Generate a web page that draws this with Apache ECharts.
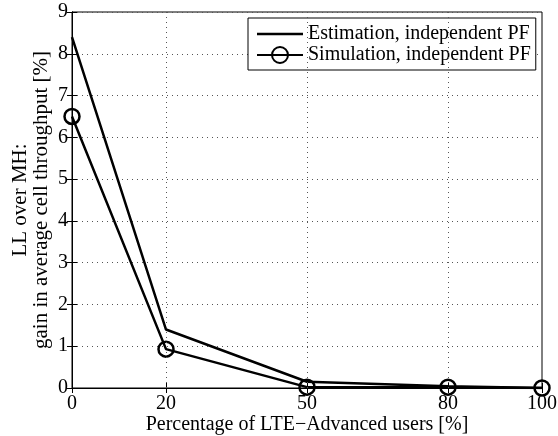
<!DOCTYPE html>
<html><head><meta charset="utf-8">
<script src="https://cdn.jsdelivr.net/npm/echarts@6/dist/echarts.min.js"></script>
<style>html,body{margin:0;padding:0;background:#fff}#c{width:558px;height:436px}</style>
</head><body><div id="c"></div>
<script>
const xValues = [0, 20, 50, 80, 100];
const xTicks = [0, 20, 50, 80, 100];
const estimation = [8.4, 1.4, 0.15, 0.04, 0.0];
const simulation = [6.5, 0.93, 0.02, 0.02, 0.0];
const seriesNames = ['Estimation, independent PF', 'Simulation, independent PF'];
const xTitle = 'Percentage of LTE\u2212Advanced users [%]';
const yTitle = 'LL over MH:\ngain in average cell throughput [%]';

const font = 'Liberation Serif';
const chart = echarts.init(document.getElementById('c'));
const pairs = a => xValues.map((x, i) => [x, a[i]]);
const gridX = xTicks.filter(v => v > 0 && v < 100);

chart.setOption({
  animation: false,
  backgroundColor: '#fff',
  grid: { left: 72, right: 16, top: 12, bottom: 48, show: true, borderColor: '#000', borderWidth: 1, outerBoundsMode: 'none', containLabel: false },
  legend: {
    left: 248, top: 18, orient: 'vertical',
    backgroundColor: '#fff', borderColor: '#000', borderWidth: 1,
    padding: [6, 5, 5, 8], itemGap: 1, itemWidth: 46, itemHeight: 20,
    textStyle: { fontFamily: font, fontSize: 20, color: '#000', padding: [2, 0, 0, 0] },
    data: [
      { name: seriesNames[0], icon: 'path://M0,0 L46,0 L46,2.5 L0,2.5 Z', itemStyle: { color: '#000' } },
      { name: seriesNames[1] }
    ]
  },
  xAxis: [{
    type: 'value', min: 0, max: 100, interval: 10,
    name: xTitle, nameLocation: 'middle', nameGap: 27, nameMoveOverlap: false,
    nameTextStyle: { fontFamily: font, fontSize: 20, color: '#000' },
    axisLine: { lineStyle: { color: '#000', width: 1 } },
    axisTick: { inside: true, length: 5, customValues: xTicks, lineStyle: { color: '#000' } },
    axisLabel: { customValues: xTicks, fontFamily: font, fontSize: 20, color: '#000', margin: 6 },
    splitLine: { show: false }
  }, {
    type: 'value', min: 0, max: 100, position: 'top',
    axisLine: { lineStyle: { color: '#000', width: 1 } },
    axisTick: { inside: true, length: 5, customValues: xTicks, lineStyle: { color: '#000' } },
    axisLabel: { show: false }, splitLine: { show: false }
  }],
  yAxis: [{
    type: 'value', min: 0, max: 9, interval: 1,
    name: yTitle, nameLocation: 'middle', nameGap: 20, nameMoveOverlap: false,
    nameTextStyle: { fontFamily: font, fontSize: 21, color: '#000', lineHeight: 21 },
    axisLine: { lineStyle: { color: '#000', width: 1 } },
    axisTick: { inside: true, length: 5, lineStyle: { color: '#000' } },
    axisLabel: { fontFamily: font, fontSize: 20, color: '#000', margin: 4 },
    splitLine: { show: true, lineStyle: { color: '#555', width: 1, type: [1, 4] } }
  }, {
    type: 'value', min: 0, max: 9, interval: 1, position: 'right',
    axisLine: { lineStyle: { color: '#000', width: 1 } },
    axisTick: { inside: true, length: 5, lineStyle: { color: '#000' } },
    axisLabel: { show: false }, splitLine: { show: false }
  }],
  series: [{
    name: seriesNames[0], type: 'line', data: pairs(estimation),
    symbol: 'none', lineStyle: { color: '#000', width: 2.5 }, itemStyle: { color: '#000' },
    z: 3,
    markLine: {
      silent: true, symbol: 'none', label: { show: false },
      lineStyle: { color: '#555', width: 1, type: [1, 4] },
      data: gridX.map(v => ({ xAxis: v }))
    }
  }, {
    name: seriesNames[1], type: 'line', data: pairs(simulation),
    symbol: 'circle', symbolSize: 15,
    lineStyle: { color: '#000', width: 2.5 },
    itemStyle: { color: 'rgba(255,255,255,0)', borderColor: '#000', borderWidth: 2.5 },
    z: 4
  }]
});
</script></body></html>
